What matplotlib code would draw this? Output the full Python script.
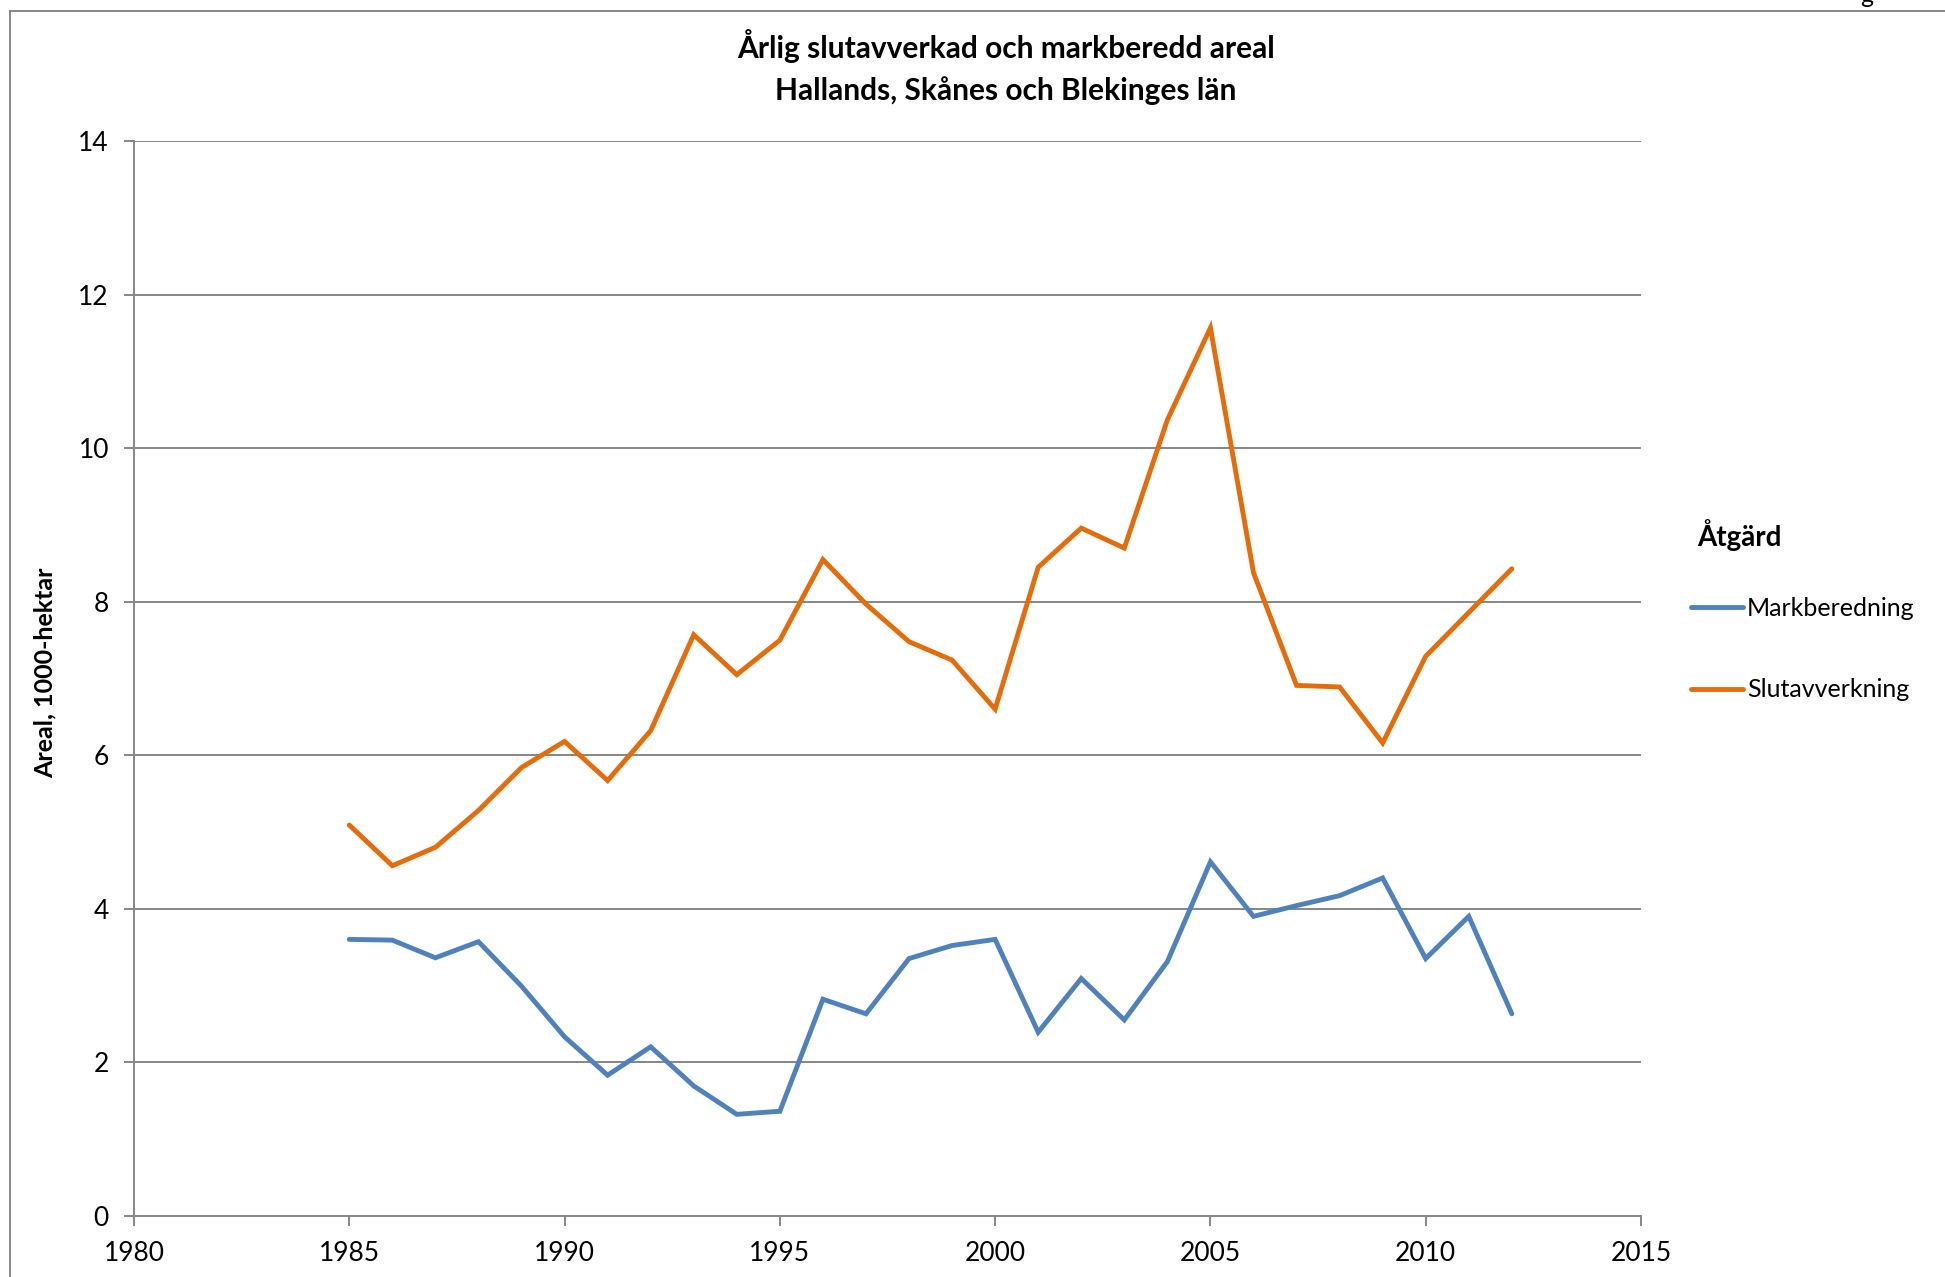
import matplotlib
matplotlib.use("Agg")
import matplotlib.pyplot as plt
from matplotlib.lines import Line2D

plt.rcParams['font.family'] = ['Lato', 'DejaVu Sans']

years = list(range(1985, 2013))
markberedning = [3.60, 3.59, 3.36, 3.57, 2.99, 2.33, 1.83, 2.20, 1.69, 1.32,
                 1.36, 2.82, 2.63, 3.35, 3.52, 3.60, 2.39, 3.09, 2.55, 3.31,
                 4.61, 3.90, 4.04, 4.17, 4.40, 3.35, 3.90, 2.63]
slutavverkning = [5.09, 4.56, 4.80, 5.28, 5.84, 6.18, 5.67, 6.32, 7.57, 7.05,
                  7.50, 8.55, 7.97, 7.48, 7.24, 6.60, 8.45, 8.96, 8.70, 10.37,
                  11.57, 8.38, 6.91, 6.89, 6.16, 7.29, 7.86, 8.43]

title = "Årlig slutavverkad och markberedd areal\nHallands, Skånes och Blekinges län"
ylabel = "Areal, 1000-hektar"
legend_title = "Åtgärd"

blue = "#4F81BD"
orange = "#E46C0A"
gray = "#868686"

W, H = 1945, 1277
fig = plt.figure(figsize=(W / 100, H / 100), dpi=100)
ax = fig.add_axes([134 / W, 1 - 1215.6 / H, (1641 - 134) / W, (1215.6 - 141.4) / H])

ax.plot(years, markberedning, color=blue, lw=3.5, label="Markberedning",
        solid_joinstyle='miter', solid_capstyle='round')
ax.plot(years, slutavverkning, color=orange, lw=3.5, label="Slutavverkning",
        solid_joinstyle='miter', solid_capstyle='round')

ax.set_xlim(1980, 2015)
ax.set_ylim(0, 14)
ax.set_xticks(range(1980, 2016, 5))
ax.set_yticks(range(0, 15, 2))
ax.yaxis.grid(True, color=gray, lw=1.4)
ax.set_axisbelow(True)
for s in ['top', 'right']:
    ax.spines[s].set_visible(False)
for s in ['left', 'bottom']:
    ax.spines[s].set_color(gray)
    ax.spines[s].set_linewidth(1.4)
ax.tick_params(axis='both', color=gray, width=1.4, length=7, labelsize=19,
               labelcolor='black')
ax.tick_params(axis='x', pad=11)
ax.tick_params(axis='y', pad=11)

ax.set_ylabel(ylabel, fontsize=18, fontweight='bold')
ax.yaxis.set_label_coords(57 / W, 1 - 673 / H, transform=fig.transFigure)

fig.text(1006 / W, 1 - 67 / H, title, ha='center', va='center', fontsize=21.5,
         fontweight='bold', linespacing=1.56)

# legend: title placed on its own, entries below
fig.text(1697 / W, 1 - 535 / H, legend_title, ha='left', va='center',
         fontsize=20, fontweight='bold')
leg = fig.legend(loc='upper left', bbox_to_anchor=(1668 / W, 1 - 574 / H),
                 frameon=False, fontsize=18, handlelength=2.1, handletextpad=0.15,
                 labelspacing=2.35)

# outer frame of the chart area
fig.add_artist(Line2D([10 / W, 1], [1 - 11 / H, 1 - 11 / H], color=gray, lw=1.4))
fig.add_artist(Line2D([10 / W, 10 / W], [0, 1 - 11 / H], color=gray, lw=1.4))
fig.text(1867 / W, 1 - 3 / H, "g", ha='center', va='baseline', fontsize=18)

fig.savefig("out.png", dpi=100)
